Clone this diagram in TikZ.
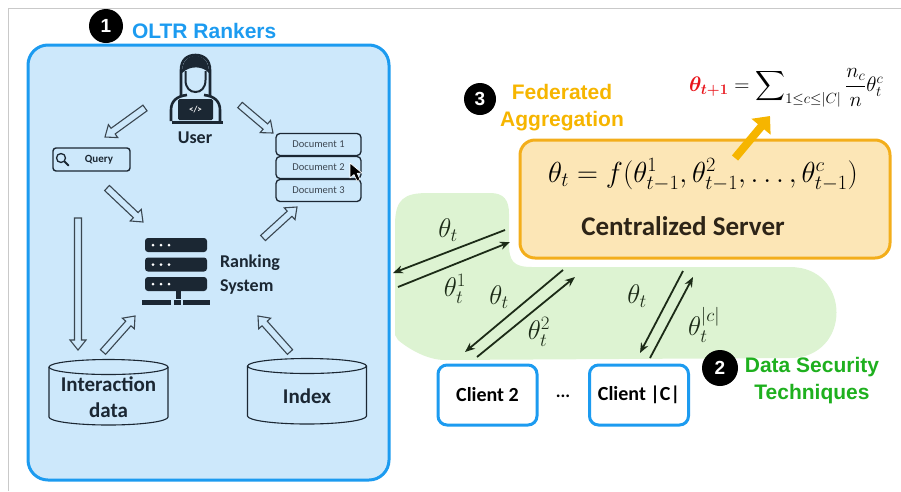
\RequirePackage{fix-cm}
\documentclass[tikz,border=0pt]{standalone}
\usepackage{amsmath}
\usepackage{fontspec}
\setmainfont{Carlito}
\newfontfamily\headfont{Liberation Sans}
\usetikzlibrary{arrows.meta,calc}

\definecolor{framegray}{HTML}{C9C9C9}
\definecolor{oltrfill}{HTML}{CDE8FB}
\definecolor{oltrline}{HTML}{1C9BF0}
\definecolor{ink}{HTML}{1B2733}
\definecolor{arrowgray}{HTML}{3A4650}
\definecolor{blobgreen}{HTML}{DDF3D2}
\definecolor{srvfill}{HTML}{FCE6B6}
\definecolor{srvline}{HTML}{F3AE1B}
\definecolor{fedorange}{HTML}{F6B500}
\definecolor{secgreen}{HTML}{1EB01E}
\definecolor{linkc}{HTML}{1C2B17}
\definecolor{srvtext}{HTML}{2D2417}
\definecolor{updred}{HTML}{E8141B}

\begin{document}
\begin{tikzpicture}[x=1pt,y=-1pt,
  every node/.style={inner sep=0pt, outer sep=0pt},
  hollow/.style={draw=arrowgray, line width=1.1pt, line join=miter,
    to path={let \p1=(\tikztostart), \p2=(\tikztotarget),
      \n1={atan2(\y2-\y1,\x2-\x1)}, \n2={veclen(\x2-\x1,\y2-\y1)} in
      ($(\p1)+({\n1+90}:3.5pt)$)
      -- ($(\p1)+({\n1}:{\n2-10pt})+({\n1+90}:3.5pt)$)
      -- ($(\p1)+({\n1}:{\n2-10pt})+({\n1+90}:8pt)$)
      -- (\p2)
      -- ($(\p1)+({\n1}:{\n2-10pt})+({\n1-90}:8pt)$)
      -- ($(\p1)+({\n1}:{\n2-10pt})+({\n1-90}:3.5pt)$)
      -- ($(\p1)+({\n1-90}:3.5pt)$) -- cycle}},
  link/.style={draw=linkc, line width=1.8pt, -{Stealth[length=10pt,width=8pt]}},
  numdot/.style={circle, fill=black, text=white, minimum size=34pt,
    font=\headfont\bfseries\fontsize{19}{19}\selectfont},
  heading/.style={font=\headfont\bfseries\fontsize{21}{27}\selectfont, align=center},
  lbl/.style={font=\bfseries\fontsize{18}{24}\selectfont, text=ink},
  dblbl/.style={font=\bfseries\fontsize{21}{26}\selectfont, text=ink, align=center},
  docbox/.style={draw=ink, line width=1.3pt, rounded corners=4pt,
    minimum width=85pt, minimum height=22pt, text=ink!85,
    font=\fontsize{10.5}{12}\selectfont},
  clientbox/.style={draw=oltrline, fill=white, line width=3pt, rounded corners=9pt,
    minimum width=99pt, minimum height=60pt, text=black,
    font=\bfseries\fontsize{20}{22}\selectfont},
  theta/.style={font=\fontsize{27}{30}\selectfont, text=linkc},
]
\useasboundingbox (0,0) rectangle (901,491);

% page frame
\draw[framegray, line width=1pt] (8,491) -- (8,8) -- (901,8);

%================ OLTR rankers panel ================
\node[draw=oltrline, fill=oltrfill, line width=3pt, rounded corners=20pt,
      minimum width=361pt, minimum height=435pt] (oltr) at (208.5,262.5) {};
\node[numdot] (n1) at (106,26) {1};
\node[anchor=west, font=\headfont\bfseries\fontsize{21}{21}\selectfont, text=oltrline]
  (oltrtitle) at (132,31) {OLTR Rankers};

% user icon
\draw[ink, line width=2.6pt, line join=round]
  (181,97) -- (181,70) .. controls (181,60) and (187,55) .. (195.5,55)
  .. controls (204,55) and (210,60) .. (210,70) -- (210,97);
\fill[ink] (182,73) .. controls (182,61) and (188,56) .. (195.5,56)
  .. controls (203,56) and (209,61) .. (209,73)
  .. controls (203,66) and (190,65) .. (182,73) -- cycle;
\draw[ink, line width=2pt] (185.5,71) -- (185.5,80) .. controls (185.5,88) and (190,92) .. (195.5,92)
  .. controls (201,92) and (205.5,88) .. (205.5,80) -- (205.5,71);
\draw[ink, line width=2.6pt, line join=round]
  (171,121) -- (171,110) .. controls (171,101) and (177,96) .. (187,95);
\draw[ink, line width=2.6pt, line join=round]
  (220,121) -- (220,110) .. controls (220,101) and (214,96) .. (204,95);
\fill[ink, rounded corners=1.5pt] (178,99) rectangle (213,120);
\node[text=white, font=\bfseries\fontsize{9}{9}\selectfont] (code) at (195.5,109.5) {</>};
\draw[ink, line width=3pt] (172,122) -- (223,122);
\node[lbl] (user) at (195,138) {User};

% query box
\node[draw=ink, line width=1.4pt, rounded corners=3pt,
      minimum width=77pt, minimum height=23pt] (query) at (91.5,159.5) {};
\draw[ink, line width=1.3pt] (61,158) circle[radius=4.5pt];
\draw[ink, line width=2pt, line cap=round] (64.5,161.5) -- (68.5,165.5);
\node[font=\bfseries\fontsize{11}{12}\selectfont, text=ink] (qtext) at (99,160) {Query};

% result list
\node[docbox] (doc1) at (318.5,144.5) {Document 1};
\node[docbox] (doc2) at (318.5,167.5) {Document 2};
\node[docbox] (doc3) at (318.5,190.5) {Document 3};
\filldraw[fill=black, draw=white, line width=0.6pt, line join=round]
  (350,163) -- (350,178) -- (354,174.5) -- (357,181) -- (360,179.5)
  -- (357.2,173.3) -- (362,173) -- cycle;

% ranking system (server icon)
\foreach \yt in {238,257.5,277}{
  \fill[ink, rounded corners=3pt] (145,\yt) rectangle (207,\yt+14);
  \foreach \xd in {153,161,169}{\fill[white] (\xd,\yt+7) circle[radius=1.5pt];}
}
\fill[ink] (176,291) rectangle (180.5,299);
\fill[ink] (142,300) rectangle (171,305);
\fill[ink] (173.5,300) rectangle (180.5,305);
\fill[ink] (183,300) rectangle (210,305);
\node[lbl, anchor=west, align=left] (rank) at (220,275) {Ranking\\System};

% data stores
\draw[ink, line width=1.1pt] (49,367) -- (49,417)
  arc[start angle=180, end angle=360, x radius=59.5pt, y radius=8pt] -- (168,367);
\draw[ink, line width=1.1pt] (108.5,367) ellipse[x radius=59.5pt, y radius=7.5pt];
\node[dblbl] (inter) at (108.5,397) {Interaction\\data};

\draw[ink, line width=1.1pt] (247.5,366) -- (247.5,416)
  arc[start angle=180, end angle=360, x radius=59.5pt, y radius=8pt] -- (366.5,366);
\draw[ink, line width=1.1pt] (307,366) ellipse[x radius=59.5pt, y radius=7.5pt];
\node[dblbl] (index) at (307,396) {Index};

% hollow flow arrows
\coordinate (uq1) at (145,108);  \coordinate (uq2) at (105,137);
\coordinate (ud1) at (240,105);  \coordinate (ud2) at (273,133);
\coordinate (qr1) at (107,188);  \coordinate (qr2) at (143,222);
\coordinate (rd1) at (263,238);  \coordinate (rd2) at (297,207);
\coordinate (qi1) at (78,218);   \coordinate (qi2) at (78,350);
\coordinate (ir1) at (103,352);  \coordinate (ir2) at (135,316);
\coordinate (xr1) at (290,352);  \coordinate (xr2) at (258,316);
\draw[hollow] (uq1) to (uq2);
\draw[hollow] (ud1) to (ud2);
\draw[hollow] (qr1) to (qr2);
\draw[hollow] (rd1) to (rd2);
\draw[hollow] (qi1) to (qi2);
\draw[hollow] (ir1) to (ir2);
\draw[hollow] (xr1) to (xr2);

%================ federated side ================
% secure channel region
\fill[blobgreen] (395,335) -- (395,225) .. controls (395,199) and (404,193) .. (428,193)
  -- (490,193) .. controls (504,193) and (509,200) .. (509,214)
  -- (509,243) .. controls (509,261) and (513,267) .. (532,267)
  -- (790,267) .. controls (852,267) and (852,358) .. (790,358)
  -- (445,360) .. controls (428,360) and (410,350) .. (398,340) -- cycle;

% server
\node[draw=srvline, fill=srvfill, line width=3pt, rounded corners=15pt,
      minimum width=370pt, minimum height=118pt] (server) at (705,199) {};
\node[font=\fontsize{29}{32}\selectfont] (aggrule) at (703,175)
  {$\theta_t = f(\theta_{t-1}^1,\theta_{t-1}^2,\dots,\theta_{t-1}^c)$};
\node[font=\bfseries\fontsize{27}{30}\selectfont, text=srvtext] (srvname) at (683,226)
  {Centralized Server};

% aggregation step
\node[numdot, minimum size=32pt] (n3) at (480,99) {3};
\node[heading, text=fedorange] (fed) at (562,108) {Federated\\Aggregation};
\node[anchor=west, font=\fontsize{21}{24}\selectfont] (update) at (689,88)
  {$\textcolor{updred}{\boldsymbol{\theta_{t+1}}} = \displaystyle\sum\nolimits_{1\le c\le |C|}\frac{n_c}{n}\theta_t^c$};
\coordinate (aggfrom) at (735,158);
\coordinate (aggto) at (770,116);
\draw[fedorange, line width=8pt, -{Triangle[length=14pt,width=24pt]}] (aggfrom) -- (aggto);

% clients
\node[clientbox] (client2) at (487.5,395) {Client 2};
\node[clientbox] (clientC) at (639,395) {Client |C|};
\node[font=\bfseries\fontsize{18}{18}\selectfont] (dots) at (563,396) {...};

% security step
\node[numdot, minimum size=36pt] (n2) at (720,368) {2};
\node[heading, text=secgreen] (sec) at (812,381) {Data Security\\Techniques};

% parameter exchange
\coordinate (s1a) at (505,230); \coordinate (c1a) at (393,273);
\coordinate (c1b) at (398,287); \coordinate (s1b) at (510,242);
\coordinate (s2a) at (563,270); \coordinate (c2a) at (465,352);
\coordinate (c2b) at (477,357); \coordinate (s2b) at (575,277);
\coordinate (sCa) at (683,271); \coordinate (cCa) at (640,353);
\coordinate (cCb) at (650,358); \coordinate (sCb) at (693,277);
\draw[link] (s1a) -- (c1a);
\draw[link] (c1b) -- (s1b);
\draw[link] (s2a) -- (c2a);
\draw[link] (c2b) -- (s2b);
\draw[link] (sCa) -- (cCa);
\draw[link] (cCb) -- (sCb);

\node[theta] (d1) at (448,230) {$\theta_t$};
\node[theta] (u1) at (455,289) {$\theta_t^1$};
\node[theta] (d2) at (499,297) {$\theta_t$};
\node[theta] (u2) at (539,332) {$\theta_t^2$};
\node[theta] (dC) at (637,296) {$\theta_t$};
\node[theta] (uC) at (704,325) {$\theta_t^{|c|}$};
\end{tikzpicture}
\end{document}
